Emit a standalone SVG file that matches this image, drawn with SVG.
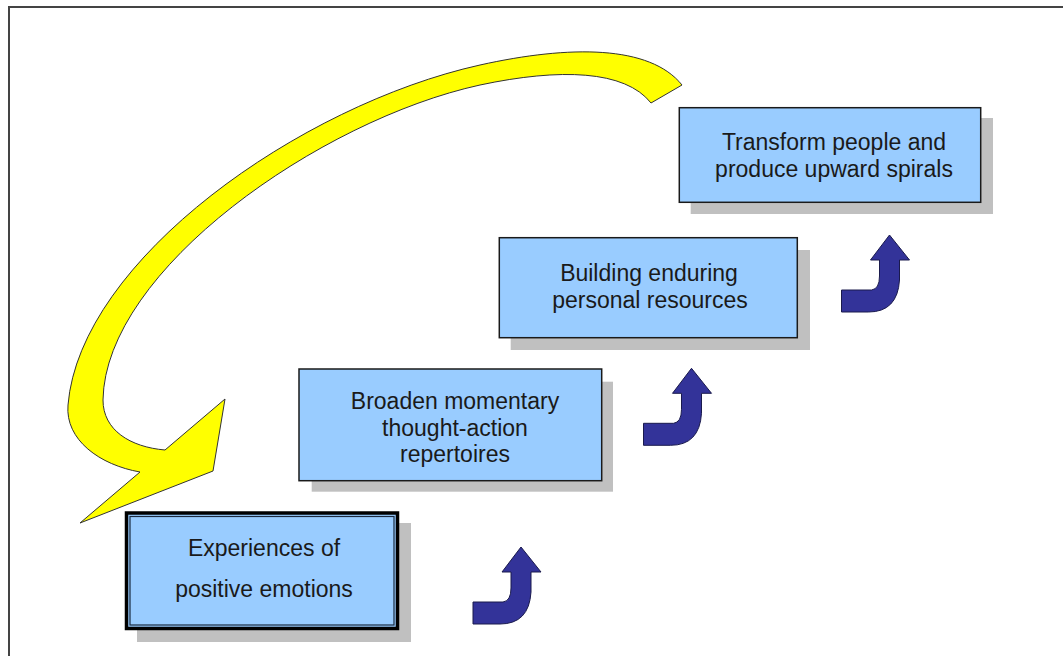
<svg xmlns="http://www.w3.org/2000/svg" width="1063" height="656" viewBox="0 0 1063 656">
<style>
.frame{fill:none;stroke:#444;stroke-width:2}
.shadow{fill:#c0c0c0}
.box{fill:#99ccff;stroke:#1a1a1a;stroke-width:1.5}
.lbl{font-family:"Liberation Sans",Arial,sans-serif;font-size:23px;fill:#1a1a1a;text-anchor:middle}
.yel{fill:#ffff00;stroke:#333;stroke-width:1}
.blue{fill:#333399;stroke:#1a1a4d;stroke-width:1}
</style>
<defs>
<path id="bend" d="M473,602 L503,602 Q511,601 511,588 L511,572 L502,572 L521,547 L541,572 L531,572 L531,592 Q529,624 500,624 L473,624 Z"/>
</defs>
<rect width="1063" height="656" fill="#fff"/>
<rect class="frame" x="9" y="7" width="1070" height="670"/>

<g id="connectors">
<path id="feedback-arrow" class="yel" d="M682,85 C650,45 570,45 480,65 C300,105 80,260 68,405 C65,440 100,465 140,472 L80,523 L213,471 L225,399 L165,450 C130,447 103,430 103,400 C105,270 320,120 480,85 C560,68 625,70 651,103 Z"/>
<use class="blue" href="#bend"/>
<use class="blue" href="#bend" transform="translate(170.5,-178.7)"/>
<use class="blue" href="#bend" transform="translate(368.5,-312)"/>
</g>

<g id="node-experiences">
<rect class="shadow" x="137" y="523" width="274" height="119"/>
<rect x="126.5" y="513" width="271" height="115.5" fill="#99ccff" stroke="#000" stroke-width="3.5"/>
<rect x="130" y="516.5" width="264" height="108.5" fill="none" stroke="#1a2a40" stroke-width="1.2"/>
<text class="lbl" x="264" y="556">Experiences of</text>
<text class="lbl" x="264" y="597">positive emotions</text>
</g>

<g id="node-broaden">
<rect class="shadow" x="311.7" y="381.7" width="301.3" height="110"/>
<rect class="box" x="299" y="369" width="302.7" height="111.7"/>
<text class="lbl" x="455" y="409">Broaden momentary</text>
<text class="lbl" x="455" y="436">thought-action</text>
<text class="lbl" x="455" y="462">repertoires</text>
</g>

<g id="node-building">
<rect class="shadow" x="510.7" y="250" width="299.3" height="100"/>
<rect class="box" x="499.3" y="237.7" width="298" height="100"/>
<text class="lbl" x="649" y="281">Building enduring</text>
<text class="lbl" x="650" y="308">personal resources</text>
</g>

<g id="node-transform">
<rect class="shadow" x="690.7" y="118" width="302.3" height="96"/>
<rect class="box" x="679.3" y="107.7" width="301.4" height="94.6"/>
<text class="lbl" x="834" y="150">Transform people and</text>
<text class="lbl" x="834" y="177">produce upward spirals</text>
</g>
</svg>
